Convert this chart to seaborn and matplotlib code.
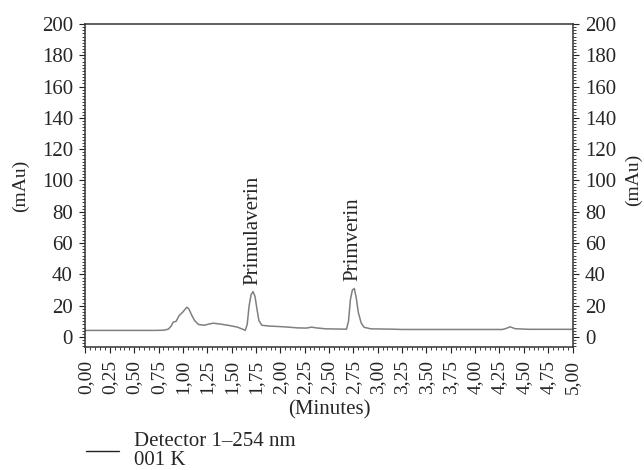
import seaborn as sns
import matplotlib.pyplot as plt
import pandas as pd
from matplotlib.lines import Line2D
from matplotlib.ticker import MultipleLocator, FuncFormatter

sns.set_style('white')
plt.rcParams['font.family'] = ['Liberation Serif', 'DejaVu Serif']

# chromatogram trace
minutes = [0.00, 0.70, 0.80, 0.85, 0.88, 0.90, 0.93, 0.96, 1.00, 1.04, 1.06, 1.09,
           1.12, 1.16, 1.22, 1.27, 1.31, 1.38, 1.48, 1.56, 1.62, 1.64, 1.66, 1.68,
           1.70, 1.72, 1.74, 1.76, 1.78, 1.81, 1.88, 1.98, 2.08, 2.18, 2.27, 2.32,
           2.37, 2.47, 2.68, 2.70, 2.72, 2.74, 2.76, 2.78, 2.80, 2.83, 2.86, 2.93,
           3.15, 3.25, 4.28, 4.32, 4.36, 4.41, 4.55, 5.00]
mau = [4.2, 4.2, 4.3, 5.0, 7.0, 9.5, 10.0, 13.5, 16.0, 19.0, 18.0, 14.0,
       10.5, 8.0, 7.5, 8.3, 8.8, 8.3, 7.3, 6.3, 4.8, 4.2, 8.0, 20.0,
       27.0, 29.0, 26.0, 18.0, 10.5, 7.5, 7.0, 6.7, 6.3, 5.8, 5.7, 6.3,
       5.8, 5.2, 5.0, 10.0, 24.0, 30.0, 31.0, 25.0, 16.0, 9.0, 6.2, 5.2,
       5.0, 4.8, 4.8, 5.5, 6.5, 5.3, 4.9, 4.9]

peak_names = ['Primulaverin', 'Primverin']
peak_times = [1.72, 2.75]
peak_heights = [29.0, 31.0]

df = pd.DataFrame({'Minutes': minutes, 'mAu': mau})

fig = plt.figure(figsize=(6.44, 4.70), dpi=100)
ax = fig.add_axes([85.5 / 644, 1 - 347 / 470, (572.5 - 85.5) / 644, (347 - 24) / 470])

sns.lineplot(data=df, x='Minutes', y='mAu', ax=ax, color='#808080', linewidth=1.1)

for name, t, h in zip(peak_names, peak_times, peak_heights):
    ax.text(t, h + 4.5, name, rotation=90, ha='center', va='bottom', fontsize=15)

ax.set_xlim(0, 5)
ax.set_ylim(-6.4, 200)
ax.xaxis.set_major_locator(MultipleLocator(0.25))
ax.xaxis.set_minor_locator(MultipleLocator(0.05))
ax.yaxis.set_major_locator(MultipleLocator(20))
ax.yaxis.set_minor_locator(MultipleLocator(2))
ax.xaxis.set_major_formatter(FuncFormatter(lambda v, p: f'{v:.2f}'.replace('.', ',')))
ax.tick_params(which='major', length=4, width=0.8, color='#222222', labelsize=15,
               left=True, bottom=True, right=True, labelright=True, direction='out', pad=5)
ax.tick_params(axis='x', labelrotation=90, labelsize=14)
ax.tick_params(which='minor', length=2, width=0.6, color='#222222',
               left=True, bottom=True, right=True, direction='out')
for s in ax.spines.values():
    s.set_color('#333333')
    s.set_linewidth(1.1)

ax.set_xlabel('(Minutes)', fontsize=15, labelpad=5)
ax.set_ylabel('(mAu)', fontsize=14, labelpad=9)
fig.text(633 / 644, 1 - 180 / 470, '(mAu)', rotation=90, ha='center', va='center', fontsize=14)

handle = Line2D([], [], color='#222222', linewidth=1.0)
fig.legend(handles=[handle], labels=['Detector 1\u2013254 nm\n001 K'], loc='lower left',
           bbox_to_anchor=(84 / 644, -0.004), frameon=False, fontsize=15,
           handlelength=1.6, handletextpad=0.7, borderpad=0.1, borderaxespad=0)
for t in fig.legends[0].get_texts():
    t.set_linespacing(1.0)

fig.savefig('out.png', dpi=100)
